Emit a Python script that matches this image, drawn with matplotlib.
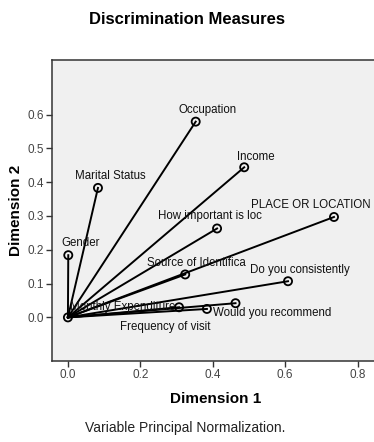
import matplotlib
matplotlib.use('Agg')
import matplotlib.pyplot as plt

plt.rcParams['font.family'] = ['Liberation Sans', 'DejaVu Sans']

# discrimination measures
variables = ['Occupation', 'Income', 'Marital Status', 'PLACE OR LOCATION',
             'How important is loc', 'Gender', 'Source of Identifica',
             'Do you consistently', 'Would you recommend', 'Frequency of visit',
             'Monthly Expenditure', '']
dim1 = [0.353, 0.487, 0.083, 0.735, 0.412, 0.001, 0.324, 0.608, 0.463, 0.384, 0.307, 0.0]
dim2 = [0.579, 0.444, 0.383, 0.297, 0.263, 0.184, 0.127, 0.107, 0.042, 0.025, 0.030, 0.0]

# where each label sits (data units), roughly as SPSS placed them
label_pos = {
    'Occupation': (0.386, 0.614, 'center'),
    'Income': (0.520, 0.475, 'center'),
    'Marital Status': (0.116, 0.418, 'center'),
    'PLACE OR LOCATION': (0.836, 0.331, 'right'),
    'How important is loc': (0.392, 0.300, 'center'),
    'Gender': (0.036, 0.219, 'center'),
    'Source of Identifica': (0.356, 0.160, 'center'),
    'Do you consistently': (0.640, 0.140, 'center'),
    'Would you recommend': (0.563, 0.014, 'center'),
    'Frequency of visit': (0.270, -0.028, 'center'),
    'Monthly Expenditure': (0.152, 0.031, 'center'),
}

fig = plt.figure(figsize=(3.74, 4.42), dpi=100)
ax = fig.add_axes([0.139, 0.184, 0.875, 0.680])
ax.set_facecolor('#f0f0f0')

for x, y in zip(dim1, dim2):
    ax.plot([0, x], [0, y], color='black', lw=1.4, zorder=2)
ax.scatter(dim1, dim2, s=34, facecolors='none', edgecolors='black', linewidths=1.3, zorder=3)

for name, (tx, ty, ha) in label_pos.items():
    ax.text(tx, ty, name, ha=ha, va='center', fontsize=8.3, color='#111111', zorder=4)

ax.set_xlim(-0.044, 0.86)
ax.set_ylim(-0.128, 0.761)
ax.set_xticks([0.0, 0.2, 0.4, 0.6, 0.8])
ax.set_yticks([0.0, 0.1, 0.2, 0.3, 0.4, 0.5, 0.6])
ax.xaxis.set_major_formatter(matplotlib.ticker.FormatStrFormatter('%.1f'))
ax.yaxis.set_major_formatter(matplotlib.ticker.FormatStrFormatter('%.1f'))
ax.tick_params(labelsize=8.5, length=4.5, width=1.0, color='#333333', labelcolor='#444444', pad=1.5)
for s in ax.spines.values():
    s.set_color('#333333')
    s.set_linewidth(1.1)

ax.set_xlabel('Dimension 1', fontsize=11, fontweight='bold', labelpad=8)
ax.set_ylabel('Dimension 2', fontsize=11, fontweight='bold', labelpad=3)
fig.text(0.5, 0.957, 'Discrimination Measures', ha='center', va='center', fontsize=12, fontweight='bold')
fig.text(0.495, 0.032, 'Variable Principal Normalization.', ha='center', va='center', fontsize=10, color='#222222')

fig.savefig('out.png', dpi=100)
